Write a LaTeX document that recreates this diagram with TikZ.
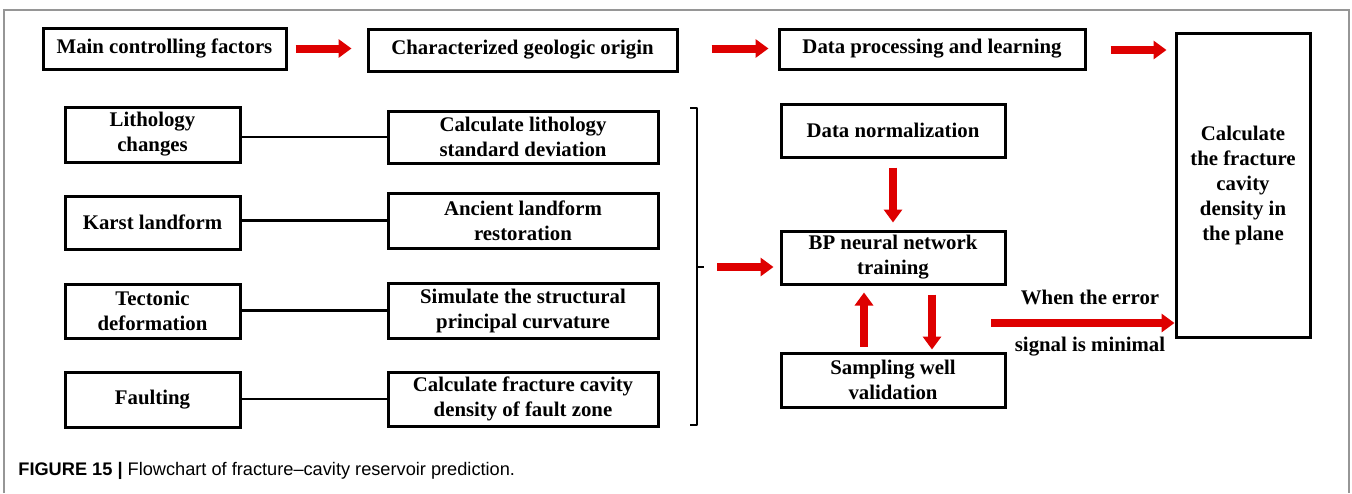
\documentclass[tikz,border=0pt]{standalone}
\usepackage{fontspec}
\setmainfont{Liberation Serif}
\setsansfont{Liberation Sans}
\usetikzlibrary{arrows.meta}
\definecolor{arrowred}{RGB}{222,0,0}
\definecolor{framegray}{RGB}{150,150,150}
% \flowbox{name}{cx}{cy}{width px}{height px}{text}
\newcommand\flowbox[6]{%
  \node[fbox, minimum width=#4*0.5pt, minimum height=#5*0.5pt] (#1) at (#2,#3) {#6};}
\begin{document}
\begin{tikzpicture}[x=0.5pt, y=-0.5pt,
  fbox/.style={draw=black, line width=1.5pt, inner sep=0pt, align=center,
    font=\fontsize{10.4pt}{12.5pt}\selectfont\bfseries},
  redarrow/.style={draw=arrowred, line width=4pt,
    -{Triangle[length=6.5pt, width=9pt]}},
  link/.style={draw=black, line width=1.2pt},
  lbl/.style={font=\fontsize{10.4pt}{12.5pt}\selectfont\bfseries, inner sep=0pt}]
\useasboundingbox (0,0) rectangle (1352,493);
% outer frame, open at the bottom
\draw[framegray, line width=0.6pt] (4,493) -- (4,10) -- (1349,10) -- (1349,493);

% top row
\flowbox{main}{164.5}{48.5}{243}{41}{Main controlling factors}
\flowbox{origin}{522.5}{50}{309}{42}{Characterized geologic origin}
\flowbox{learn}{932}{49}{306}{40}{Data processing and learning}
\flowbox{plane}{1243}{185}{134}{304}{Calculate\\the fracture\\cavity\\density in\\the plane}

% controlling factors and their treatments
\flowbox{lith}{152.5}{134.5}{175}{55}{Lithology\\changes}
\flowbox{calcA}{523}{137}{270}{52}{Calculate lithology\\standard deviation}
\flowbox{karst}{152.5}{222.5}{175}{53}{Karst landform}
\flowbox{anc}{523}{220.5}{270}{55}{Ancient landform\\restoration}
\flowbox{tect}{152.5}{311}{175}{54}{Tectonic\\deformation}
\flowbox{sim}{523}{310.5}{270}{55}{Simulate the structural\\principal curvature}
\flowbox{fault}{152.5}{399.5}{175}{55}{Faulting}
\flowbox{calcB}{523}{399}{270}{54}{Calculate fracture cavity\\density of fault zone}

% learning column
\flowbox{norm}{893}{130.5}{224}{53}{Data normalization}
\flowbox{bp}{893}{257.5}{224}{53}{BP neural network\\training}
\flowbox{samp}{893}{380}{224}{54}{Sampling well\\validation}

% links between factors and treatments
\draw[link] (calcA.west -| lith.east) -- (calcA.west);
\draw[link] (anc.west -| karst.east) -- (anc.west);
\draw[link] (sim.west -| tect.east) -- (sim.west);
\draw[link] (calcB.west -| fault.east) -- (calcB.west);

% bracket gathering the four treatments
\draw[black, line width=1.2pt, line join=round] (690,108) -- (697,108) -- (697,425) -- (690,425);
\coordinate (brace) at (704,267);
\draw[black, line width=1.2pt] (697,267) -- (brace);

% top-row arrows
\draw[redarrow, shorten <=4pt, shorten >=7.5pt] (main.east) -- (main.east -| origin.west);
\draw[redarrow, shorten <=16.5pt, shorten >=4.5pt] (origin.east |- main.east) -- (main.east -| learn.west);
\draw[redarrow, shorten <=12pt, shorten >=4pt] ([yshift=-0.5pt]learn.east) -- ([yshift=-0.5pt]learn.east -| plane.west);

% arrows of the learning loop
\draw[redarrow, shorten <=6.5pt, shorten >=3pt] (brace) -- (brace -| bp.west);
\draw[redarrow, shorten <=4.5pt, shorten >=3.5pt] (norm.south) -- (bp.north);
\coordinate (upx) at (864,0);
\coordinate (dnx) at (932,0);
\draw[redarrow, shorten <=2.5pt, shorten >=3.5pt] (upx |- samp.north) -- (upx |- bp.south);
\draw[redarrow, shorten <=4.5pt, shorten >=1pt] (dnx |- bp.south) -- (dnx |- samp.north);

% exit once the error is small enough
\coordinate (errstart) at (991,323);
\draw[redarrow] (errstart) -- (errstart -| plane.west);
\node[lbl] (errA) at (1090,297) {When the error};
\node[lbl] (errB) at (1090,347) {signal is minimal};

% caption
\node[anchor=west, inner sep=0pt, font=\sffamily\fontsize{9.1pt}{11pt}\selectfont] (cap) at (18,471)
  {\textbf{FIGURE 15 |} Flowchart of fracture–cavity reservoir prediction.};
\end{tikzpicture}
\end{document}
